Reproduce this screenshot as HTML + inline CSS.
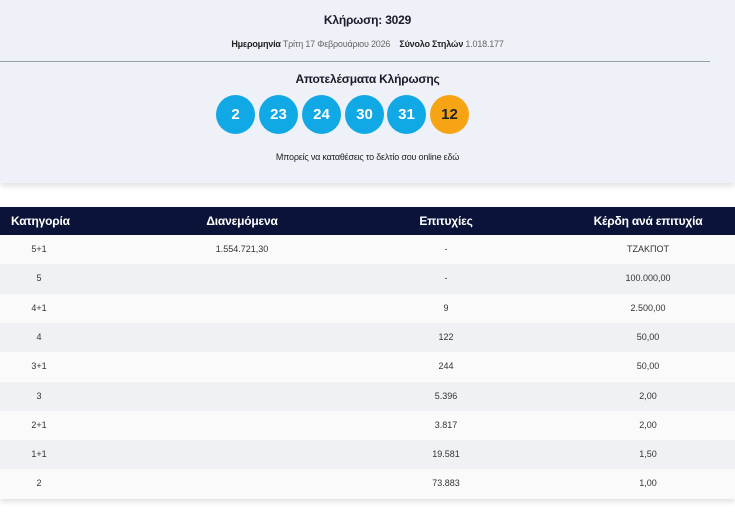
<!DOCTYPE html>
<html><head><meta charset="utf-8"><style>
*{margin:0;padding:0;box-sizing:border-box}
body{width:735px;height:512px;background:#fff;font-family:"Liberation Sans",sans-serif;color:#222;position:relative;overflow:hidden}
.top{position:absolute;left:0;top:0;width:735px;height:183px;background:#eef1f7;box-shadow:0 3px 6px rgba(0,0,0,0.12)}
.c{position:absolute;left:0;width:735px;text-align:center}
.t{top:13px;font-size:12px;font-weight:bold;color:#1a1a2a;letter-spacing:-0.2px}
.d{top:39px;font-size:9px;color:#666;letter-spacing:-0.2px}
.d b{color:#222}
.hr{position:absolute;left:0;top:61px;width:710px;height:1px;background:#9aa0aa}
.s{top:72px;font-size:12px;font-weight:bold;color:#1a1a2a;letter-spacing:-0.2px}
.ball{position:absolute;top:95px;width:39px;height:39px;border-radius:50%;background:#11a8e6;color:#fff;font-weight:bold;font-size:15px;text-align:center;line-height:39px}
.l{top:152px;font-size:9px;color:#222;letter-spacing:-0.2px}
.tbl{position:absolute;left:0;top:207px;width:735px;height:292px;box-shadow:0 3px 5px rgba(0,0,0,0.12)}
.row{position:absolute;left:0;width:735px;height:29.3px;font-size:9px;color:#333}
.row span{position:absolute;top:0;width:200px;text-align:center;line-height:29px}
.hd{top:0;height:28px;background:#0b1438;color:#fff;font-size:12px;font-weight:bold;letter-spacing:-0.2px}
.hd span{line-height:28px}
.o{background:#fafafb}.e{background:#f0f1f4}
.a{left:-61px}.b{left:142px}.cc{left:346px}.dd{left:548px}
</style></head><body>
<div class="top">
<div class="c t">Κλήρωση: 3029</div>
<div class="c d"><b>Ημερομηνία</b> Τρίτη 17 Φεβρουάριου 2026 &nbsp;&nbsp; <b>Σύνολο Στηλών</b> 1.018.177</div>
<div class="hr"></div>
<div class="c s">Αποτελέσματα Κλήρωσης</div>
<div class="ball" style="left:216px">2</div>
<div class="ball" style="left:259px">23</div>
<div class="ball" style="left:302px">24</div>
<div class="ball" style="left:345px">30</div>
<div class="ball" style="left:387px">31</div>
<div class="ball" style="left:430px;background:#f7a414;color:#222">12</div>
<div class="c l">Μπορείς να καταθέσεις το δελτίο σου online εδώ</div>
</div>
<div class="tbl">
<div class="row hd"><span style="left:11px;text-align:left">Κατηγορία</span><span class="b">Διανεμόμενα</span><span class="cc">Επιτυχίες</span><span class="dd">Κέρδη ανά επιτυχία</span></div>
<div class="row o" style="top:28px"><span class="a">5+1</span><span class="b">1.554.721,30</span><span class="cc">-</span><span class="dd">ΤΖΑΚΠΟΤ</span></div>
<div class="row e" style="top:57.3px"><span class="a">5</span><span class="cc">-</span><span class="dd">100.000,00</span></div>
<div class="row o" style="top:86.6px"><span class="a">4+1</span><span class="cc">9</span><span class="dd">2.500,00</span></div>
<div class="row e" style="top:115.9px"><span class="a">4</span><span class="cc">122</span><span class="dd">50,00</span></div>
<div class="row o" style="top:145.2px"><span class="a">3+1</span><span class="cc">244</span><span class="dd">50,00</span></div>
<div class="row e" style="top:174.5px"><span class="a">3</span><span class="cc">5.396</span><span class="dd">2,00</span></div>
<div class="row o" style="top:203.8px"><span class="a">2+1</span><span class="cc">3.817</span><span class="dd">2,00</span></div>
<div class="row e" style="top:233.1px"><span class="a">1+1</span><span class="cc">19.581</span><span class="dd">1,50</span></div>
<div class="row o" style="top:262.4px"><span class="a">2</span><span class="cc">73.883</span><span class="dd">1,00</span></div>
</div>
</body></html>
